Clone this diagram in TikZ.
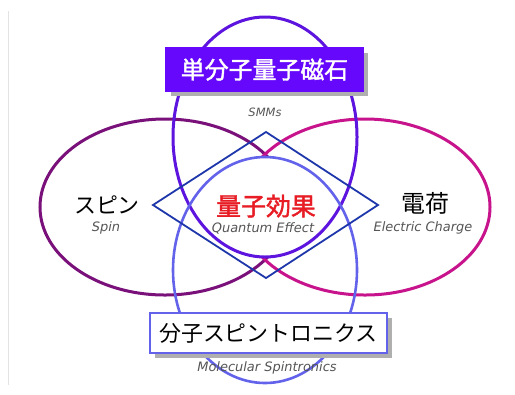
\documentclass[tikz,border=0pt]{standalone}
\usepackage{fontspec}
\setmainfont{DejaVu Sans}
\newfontfamily\jp{Noto Sans CJK JP}
\newfontfamily\jpb[FakeBold=1.6]{Noto Sans CJK JP}
\usetikzlibrary{shadows}
\definecolor{cSpin}{RGB}{122,16,122}
\definecolor{cCharge}{RGB}{200,20,140}
\definecolor{cSMM}{RGB}{92,20,222}
\definecolor{cMol}{RGB}{98,98,234}
\definecolor{cDia}{RGB}{30,55,170}
\definecolor{cBox}{RGB}{102,8,252}
\definecolor{cGrayTxt}{RGB}{85,85,85}
\definecolor{cRed}{RGB}{232,28,36}
\definecolor{cShadow}{RGB}{175,175,175}
\tikzset{
  ring/.style={line width=3bp},
  jtext/.style={inner sep=0pt, text=black},
  etext/.style={inner sep=0pt, text=cGrayTxt, font=\fontsize{13}{13}\selectfont\itshape},
  mybox/.style={draw, line width=2bp, inner sep=0pt},
  myshadow/.style={drop shadow={shadow xshift=5bp, shadow yshift=-5bp, fill=cShadow, opacity=1}}
}
\begin{document}
\begin{tikzpicture}[x=1bp,y=-1bp]
\useasboundingbox (0,0) rectangle (515,394);
\draw[gray!22, line width=1bp] (8,11) -- (8,385);
% side ellipses
\draw[cSpin, ring] (165,207) ellipse [x radius=125bp, y radius=88bp];
\draw[cCharge, ring] (365,207) ellipse [x radius=125bp, y radius=88bp];
% central lens (intersection of top and bottom ellipses)
\begin{scope}
  \clip (265,137) ellipse [x radius=92bp, y radius=120bp];
  \fill[white] (265,270) ellipse [x radius=92bp, y radius=113bp];
\end{scope}
\draw[cSMM, ring] (265,137) ellipse [x radius=92bp, y radius=120bp];
\draw[cMol, line width=2.6bp] (265,270) ellipse [x radius=92bp, y radius=113bp];
% diamond
\coordinate (dT) at (266,132);
\coordinate (dL) at (153,205);
\coordinate (dB) at (266,278);
\coordinate (dR) at (378,205);
\draw[cDia, line width=1.8bp, line join=miter] (dT) -- (dL) -- (dB) -- (dR) -- cycle;
% boxes
\node[mybox, draw=cBox, fill=cBox, myshadow, minimum width=197bp, minimum height=43bp,
      text=white, font=\jpb\fontsize{24}{24}\selectfont] (smm) at (264.5,69.5) {単分子量子磁石};
\node[mybox, draw=cMol, fill=white, myshadow, minimum width=237bp, minimum height=40bp,
      text=black, font=\jp\fontsize{22}{22}\selectfont] (mol) at (268.5,333) {分子スピントロニクス};
% labels
\node[etext, font=\fontsize{11.5}{11.5}\selectfont\itshape] (smmE) at (265,112) {SMMs};
\node[jtext, font=\jp\fontsize{22}{22}\selectfont] (spin) at (107,205) {スピン};
\node[etext] (spinE) at (106,228) {Spin};
\node[jtext, text=cRed, font=\jpb\fontsize{25}{25}\selectfont] (qe) at (266,206) {量子効果};
\node[etext] (qeE) at (263,228) {Quantum Effect};
\node[jtext, font=\jp\fontsize{24}{24}\selectfont] (charge) at (425,203) {電荷};
\node[etext] (chargeE) at (423,228) {Electric Charge};
\node[etext] (molE) at (267,368) {Molecular Spintronics};
\end{tikzpicture}
\end{document}
